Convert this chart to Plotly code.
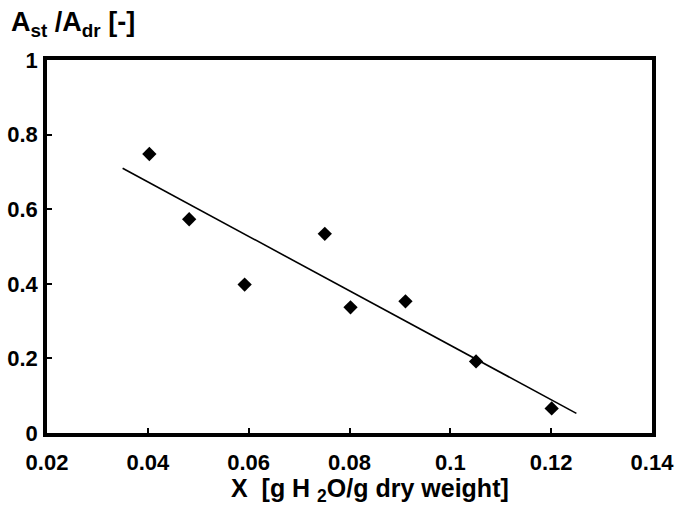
import numpy as np
import plotly.graph_objects as go

# Measured moisture content and area ratio
moisture = [0.0403, 0.0482, 0.0592, 0.0751, 0.0802, 0.0911, 0.1051, 0.1201]
area_ratio = [0.748, 0.573, 0.398, 0.534, 0.337, 0.353, 0.192, 0.066]

# Span over which the linear trend is drawn
trend_x = [0.035, 0.125]

x_ticks = [0.02, 0.04, 0.06, 0.08, 0.1, 0.12, 0.14]
x_tick_text = ["0.02", "0.04", "0.06", "0.08", "0.1", "0.12", "0.14"]
y_ticks = [0, 0.2, 0.4, 0.6, 0.8, 1]
y_tick_text = ["0", "0.2", "0.4", "0.6", "0.8", "1"]

# Least-squares linear trend through the measurements
slope, intercept = np.polyfit(moisture, area_ratio, 1)
trend_y = [intercept + slope * x for x in trend_x]

FONT = "Liberation Sans, Arial, sans-serif"

fig = go.Figure()
fig.add_trace(go.Scatter(
    x=trend_x, y=trend_y, mode="lines",
    line=dict(color="black", width=1.6),
    hoverinfo="skip", showlegend=False,
))
fig.add_trace(go.Scatter(
    x=moisture, y=area_ratio, mode="markers",
    marker=dict(symbol="diamond", size=11, color="black"),
    showlegend=False,
))

axis_common = dict(
    showgrid=False, zeroline=False,
    showline=True, linecolor="black", linewidth=3.5, mirror=True,
    ticks="inside", ticklen=5, tickwidth=1.5, tickcolor="black",
    tickfont=dict(family=FONT, size=22, color="black", weight="bold"),
)

fig.update_xaxes(
    range=[0.02, 0.14], tickvals=x_ticks, ticktext=x_tick_text,
    ticklabelstandoff=7,
    **axis_common,
)
fig.update_yaxes(
    range=[0, 1], tickvals=y_ticks, ticktext=y_tick_text,
    ticklabelstandoff=1,
    **axis_common,
)

fig.add_annotation(
    text="X  [g H <sub>2</sub>O/g dry weight]",
    xref="paper", yref="paper", x=0.534, y=-0.153,
    xanchor="center", yanchor="middle", showarrow=False,
    font=dict(family=FONT, size=25, color="black", weight="bold"),
)
fig.add_annotation(
    text="A<sub>st</sub> /A<sub>dr</sub> [-]",
    xref="paper", yref="paper", x=-0.063, y=1.045,
    xanchor="left", yanchor="bottom", showarrow=False,
    font=dict(family=FONT, size=27, color="black", weight="bold"),
)

fig.update_layout(
    width=683, height=516,
    margin=dict(l=47, r=31, t=60, b=83, autoexpand=False),
    paper_bgcolor="white", plot_bgcolor="white",
)

fig.write_html("out.html")
